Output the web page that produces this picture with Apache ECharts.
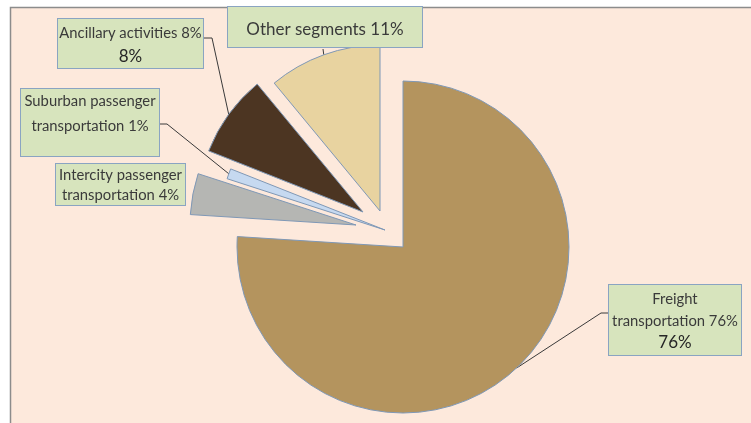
<!DOCTYPE html>
<html>
<head>
<meta charset="utf-8">
<script src="https://cdn.jsdelivr.net/npm/echarts@6/dist/echarts.min.js"></script>
<style>
  html, body { margin: 0; padding: 0; background: #ffffff; }
  #chart { width: 751px; height: 423px; }
</style>
</head>
<body>
<div id="chart"></div>
<script>
  // data, clockwise from 12 o'clock
  var categories = ['Freight transportation', 'Intercity passenger transportation',
    'Suburban passenger transportation', 'Ancillary activities', 'Other segments'];
  var shares = [76, 4, 1, 8, 11];

  // look
  var sliceColors = ['#b4945e', '#b5b6b3', '#c6d9f0', '#4c3522', '#e8d3a0'];
  // how far each slice is pulled out of the pie (px)
  var explodeShift = [[0, 0], [-47, -22], [-18, -17], [-40, -35], [-23, -36]];
  var pieCenter = [403, 247];
  var pieRadius = 166;

  // label boxes: x, y, w, h, top padding, font sizes, line height, where the name wraps
  var labelBoxes = [
    { x: 608, y: 285, w: 134, h: 72, pad: 3, fs: 14.8, vfs: 17, lh: 22, breakAt: 1, valueLine: true, line: [[601, 313], [608, 313]] },
    { x: 55, y: 164, w: 131, h: 43, pad: 1, fs: 14.8, lh: 20, breakAt: 2, valueLine: false, line: null },
    { x: 20, y: 89, w: 140, h: 69, pad: 0, fs: 14.8, lh: 25, breakAt: 2, valueLine: false, line: [[167, 124], [160, 124]] },
    { x: 57, y: 19, w: 147, h: 51, pad: 2, fs: 14.8, vfs: 17, lh: 24, breakAt: 0, valueLine: true, line: [[212, 38], [204, 38]] },
    { x: 227, y: 7, w: 196, h: 42, pad: 11, fs: 17, lh: 24, breakAt: 0, valueLine: false, line: [[323, 49]] }
  ];

  var series = categories.map(function (name, i) {
    var box = labelBoxes[i];
    return {
      type: 'pie',
      silent: true,
      animation: false,
      radius: pieRadius,
      center: [pieCenter[0] + explodeShift[i][0], pieCenter[1] + explodeShift[i][1]],
      startAngle: 90,
      clockwise: true,
      avoidLabelOverlap: false,
      data: categories.map(function (n, j) {
        return {
          name: n,
          value: shares[j],
          itemStyle: j === i
            ? { color: sliceColors[j], borderColor: '#7f98b6', borderWidth: 1 }
            : { color: 'rgba(0,0,0,0)', borderWidth: 0 },
          label: { show: j === i },
          labelLine: { show: j === i && !!box.line }
        };
      }),
      label: {
        position: 'outside',
        color: '#3a3a3a',
        fontFamily: 'Lato',
        backgroundColor: '#d7e4bd',
        borderColor: '#8aa4c2',
        borderWidth: 1,
        width: box.w - 2,
        height: box.h - box.pad - 2,
        padding: [box.pad, 0, 0, 0],
        formatter: function (p) {
          var words = (p.name + ' ' + p.value + '%').split(' ');
          var lines = box.breakAt
            ? [words.slice(0, box.breakAt).join(' '), words.slice(box.breakAt).join(' ')]
            : [words.join(' ')];
          var out = lines.map(function (l) { return '{t|' + l + '}'; });
          if (box.valueLine) out.push('{v|' + p.value + '%}');
          return out.join('\n');
        },
        rich: {
          t: { fontSize: box.fs, lineHeight: box.lh, fontFamily: 'Lato', color: '#3a3a3a' },
          v: { fontSize: box.vfs || box.fs, lineHeight: box.lh, fontFamily: 'Lato', color: '#262626' }
        }
      },
      labelLine: { lineStyle: { color: '#3a3a3a', width: 1 } },
      labelLayout: function (p) {
        if (p.dataIndex !== i) return {};
        var res = { x: box.x + box.w / 2, y: box.y, align: 'center', verticalAlign: 'top' };
        if (box.line && p.labelLinePoints) {
          res.labelLinePoints = [p.labelLinePoints[0]].concat(box.line);
        }
        return res;
      }
    };
  });

  var chart = echarts.init(document.getElementById('chart'));
  chart.setOption({
    backgroundColor: '#ffffff',
    graphic: [{
      type: 'rect',
      z: -10,
      shape: { x: 10.5, y: 7.5, width: 760, height: 430 },
      style: { fill: '#fde9dc', stroke: '#8c8c8c', lineWidth: 1.5 }
    }],
    series: series
  });
</script>
</body>
</html>
